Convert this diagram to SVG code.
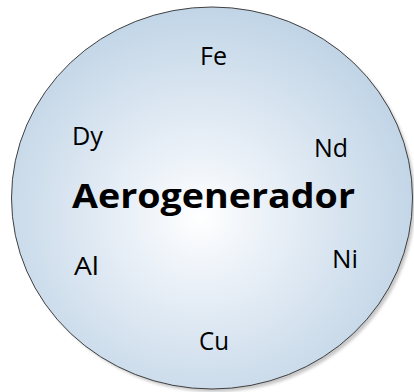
<svg xmlns="http://www.w3.org/2000/svg" width="414" height="392" viewBox="0 0 414 392">
  <style>
    .lbl { font-family: "Open Sans", "Liberation Sans", sans-serif; font-size: 25px; fill: #000; }
    .title { font-family: "Open Sans", "Liberation Sans", sans-serif; font-size: 34px; font-weight: bold; fill: #000; }
  </style>
  <defs>
    <radialGradient id="fill" cx="0.47" cy="0.55" r="0.56" fx="0.47" fy="0.55">
      <stop offset="0" stop-color="#ffffff"/>
      <stop offset="0.3" stop-color="#ebf1f8"/>
      <stop offset="1" stop-color="#c0d4e6"/>
    </radialGradient>
    <filter id="shadow" x="-10%" y="-10%" width="120%" height="120%">
      <feGaussianBlur stdDeviation="1.5"/>
    </filter>
  </defs>
  <g id="node-aerogenerador">
    <ellipse cx="215" cy="201" rx="200" ry="191" fill="#9a9a9a" opacity="0.55" filter="url(#shadow)"/>
    <ellipse cx="212" cy="198" rx="200.5" ry="191" fill="url(#fill)" stroke="#404040" stroke-width="1"/>
    <text class="title" x="72" y="208" textLength="283" lengthAdjust="spacingAndGlyphs">Aerogenerador</text>
  </g>
  <g id="node-fe"><text class="lbl" x="200" y="65" textLength="27" lengthAdjust="spacingAndGlyphs">Fe</text></g>
  <g id="node-dy"><text class="lbl" x="72" y="145" textLength="31" lengthAdjust="spacingAndGlyphs">Dy</text></g>
  <g id="node-nd"><text class="lbl" x="314" y="157" textLength="34" lengthAdjust="spacingAndGlyphs">Nd</text></g>
  <g id="node-al"><text class="lbl" x="74" y="275" textLength="25" lengthAdjust="spacingAndGlyphs">Al</text></g>
  <g id="node-ni"><text class="lbl" x="332" y="268" textLength="26" lengthAdjust="spacingAndGlyphs">Ni</text></g>
  <g id="node-cu"><text class="lbl" x="199" y="350" textLength="30" lengthAdjust="spacingAndGlyphs">Cu</text></g>
  <g id="connectors"></g>
</svg>
